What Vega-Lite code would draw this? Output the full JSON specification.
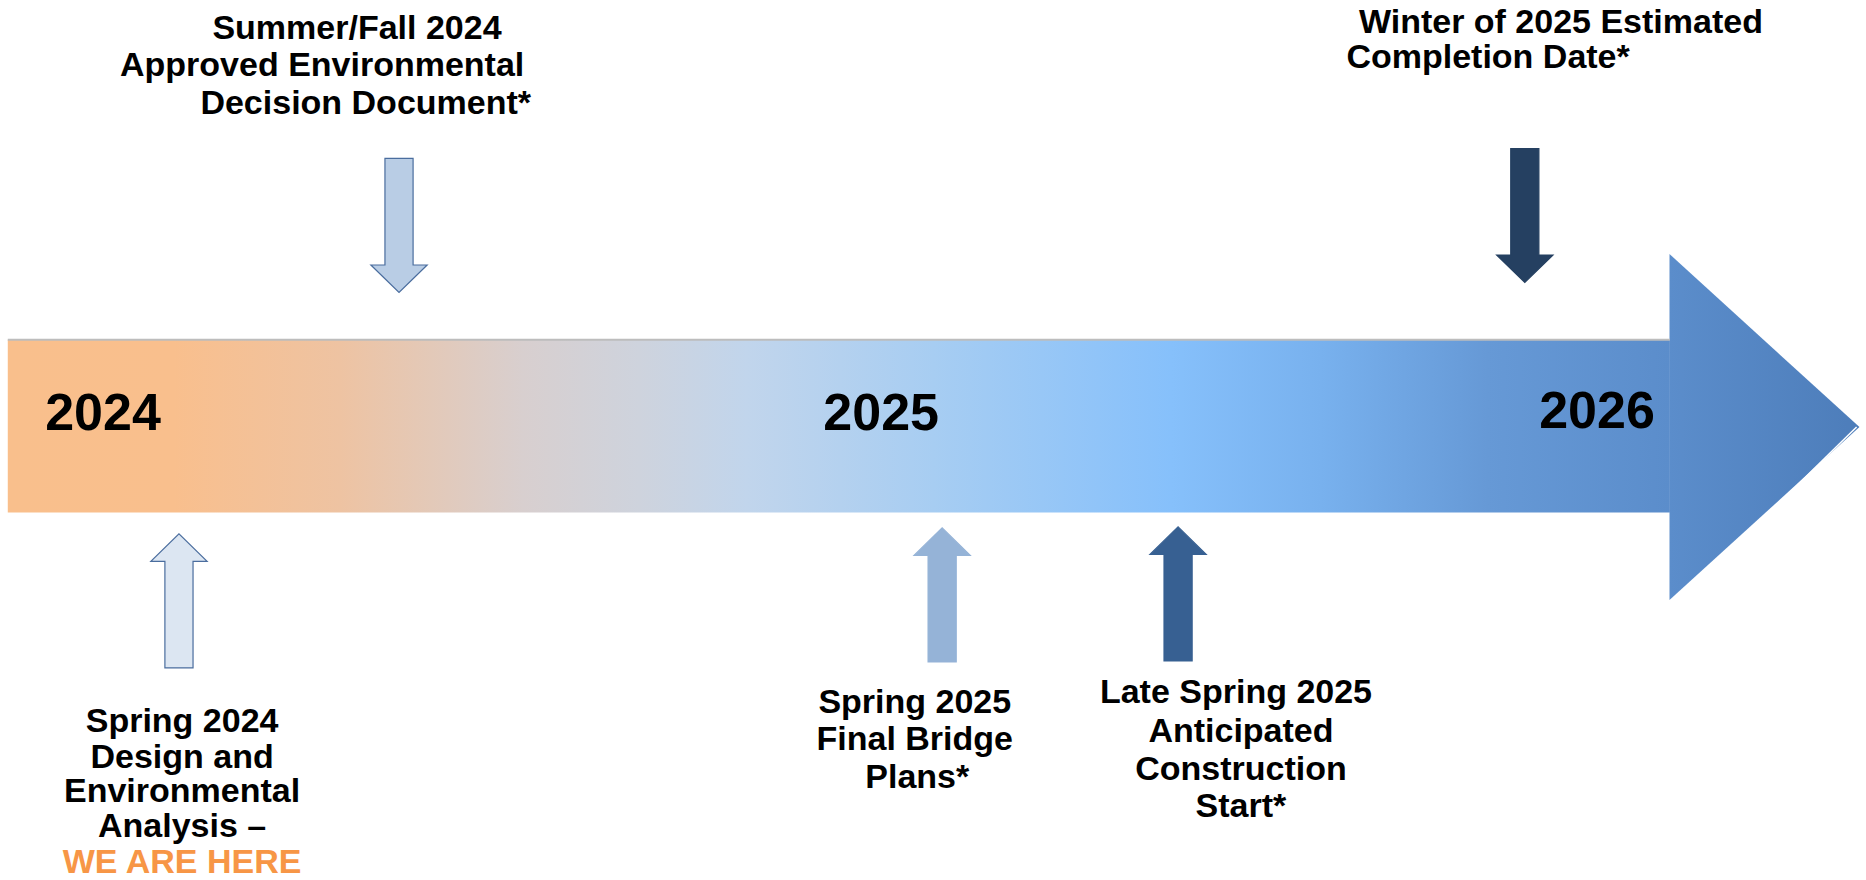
{
  "$schema": "https://vega.github.io/schema/vega-lite/v6.json",
  "width": 1866,
  "height": 880,
  "autosize": {"type": "fit", "contains": "padding"},
  "padding": 0,
  "background": "white",
  "config": {"view": {"stroke": null}, "font": "Liberation Sans"},
  "datasets": {
    "shaft": [
      {"month": -1.53, "month2": 25.17, "top": 342, "bottom": 516}
    ],
    "head": [
      {"month": 26.69, "level": 430}
    ],
    "edge": [
      {"month": -1.53, "month2": 25.17, "level": 342}
    ],
    "glint": [
      {"month": 28.17, "month2": 26.41, "level": 430, "level2": 538}
    ],
    "milestones": [
      {"id": "Summer/Fall 2024", "month": 4.755, "level": 227, "direction": "down"},
      {"id": "Winter 2025", "month": 22.84, "level": 217, "direction": "down"},
      {"id": "Spring 2024", "month": 1.22, "level": 605, "direction": "up"},
      {"id": "Spring 2025", "month": 13.48, "level": 599, "direction": "up"},
      {"id": "Late Spring 2025", "month": 17.27, "level": 598, "direction": "up"}
    ],
    "years": [
      {"label": "2024", "month": 0, "level": 433},
      {"label": "2025", "month": 12.5, "level": 433},
      {"label": "2026", "month": 24, "level": 431}
    ],
    "lines": [
      {"text": "Summer/Fall 2024", "month": 4.08, "level": 39, "tone": "normal"},
      {"text": "Approved Environmental", "month": 3.52, "level": 77, "tone": "normal"},
      {"text": "Decision Document*", "month": 4.22, "level": 115, "tone": "normal"},
      {"text": "Winter of 2025 Estimated", "month": 23.42, "level": 33, "tone": "normal"},
      {"text": "Completion Date*", "month": 22.25, "level": 68, "tone": "normal"},
      {"text": "Spring 2024", "month": 1.27, "level": 737, "tone": "normal"},
      {"text": "Design and", "month": 1.27, "level": 773, "tone": "normal"},
      {"text": "Environmental", "month": 1.27, "level": 808, "tone": "normal"},
      {"text": "Analysis –", "month": 1.27, "level": 843, "tone": "normal"},
      {"text": "WE ARE HERE", "month": 1.27, "level": 879, "tone": "highlight"},
      {"text": "Spring 2025", "month": 13.04, "level": 718, "tone": "normal"},
      {"text": "Final Bridge", "month": 13.04, "level": 755, "tone": "normal"},
      {"text": "Plans*", "month": 13.08, "level": 793, "tone": "normal"},
      {"text": "Late Spring 2025", "month": 18.2, "level": 708, "tone": "normal"},
      {"text": "Anticipated", "month": 18.28, "level": 747, "tone": "normal"},
      {"text": "Construction", "month": 18.28, "level": 785, "tone": "normal"},
      {"text": "Start*", "month": 18.28, "level": 823, "tone": "normal"}
    ]
  },
  "layer": [
    {
      "data": {"name": "shaft"},
      "mark": {
        "type": "rect",
        "fill": {
          "gradient": "linear",
          "x1": 0, "x2": 1, "y1": 0, "y2": 0,
          "stops": [
            {"offset": 0.0, "color": "#F9BF8C"},
            {"offset": 0.10, "color": "#F9BF8D"},
            {"offset": 0.20, "color": "#EEC3A2"},
            {"offset": 0.31, "color": "#D8CFCF"},
            {"offset": 0.38, "color": "#CED3DD"},
            {"offset": 0.445, "color": "#C1D5EC"},
            {"offset": 0.557, "color": "#A7CDF2"},
            {"offset": 0.70, "color": "#86C0FB"},
            {"offset": 0.79, "color": "#78B1EE"},
            {"offset": 0.89, "color": "#6699D6"},
            {"offset": 1.0, "color": "#5B8DCB"}
          ]
        }
      },
      "encoding": {
        "x": {"field": "month", "type": "quantitative", "scale": {"domain": [-1.655, 28.321], "nice": false, "zero": false}, "axis": null},
        "x2": {"field": "month2"},
        "y": {"field": "top", "type": "quantitative", "scale": {"domain": [0, 880], "reverse": true, "nice": false, "zero": false}, "axis": null},
        "y2": {"field": "bottom"}
      }
    },
    {
      "data": {"name": "head"},
      "mark": {
        "type": "point",
        "filled": true,
        "opacity": 1,
        "size": 119716,
        "shape": "M-0.549,-1L0.549,0L-0.549,1Z",
        "fill": {
          "gradient": "linear",
          "x1": 0, "x2": 1, "y1": 0, "y2": 0,
          "stops": [
            {"offset": 0.0, "color": "#5B8DCB"},
            {"offset": 1.0, "color": "#4D7DBA"}
          ]
        }
      },
      "encoding": {
        "x": {"field": "month", "type": "quantitative"},
        "y": {"field": "level", "type": "quantitative"}
      }
    },
    {
      "data": {"name": "edge"},
      "mark": {"type": "rule", "stroke": "#BDBDBD", "strokeWidth": 2},
      "encoding": {
        "x": {"field": "month", "type": "quantitative"},
        "x2": {"field": "month2"},
        "y": {"field": "level", "type": "quantitative"}
      }
    },
    {
      "data": {"name": "glint"},
      "mark": {"type": "rule", "stroke": "white", "strokeWidth": 1.5},
      "encoding": {
        "x": {"field": "month", "type": "quantitative"},
        "x2": {"field": "month2"},
        "y": {"field": "level", "type": "quantitative"},
        "y2": {"field": "level2"}
      }
    },
    {
      "data": {"name": "milestones"},
      "mark": {"type": "point", "filled": true, "opacity": 1, "strokeWidth": 1.2, "size": 17956},
      "encoding": {
        "x": {"field": "month", "type": "quantitative"},
        "y": {"field": "level", "type": "quantitative"},
        "shape": {
          "field": "direction", "type": "nominal", "legend": null,
          "scale": {
            "domain": ["down", "up"],
            "range": [
              "M-0.21,-1L0.21,-1L0.21,0.59L0.42,0.59L0,1L-0.42,0.59L-0.21,0.59Z",
              "M-0.21,1L0.21,1L0.21,-0.59L0.42,-0.59L0,-1L-0.42,-0.59L-0.21,-0.59Z"
            ]
          }
        },
        "fill": {
          "field": "id", "type": "nominal", "legend": null,
          "scale": {
            "domain": ["Summer/Fall 2024", "Winter 2025", "Spring 2024", "Spring 2025", "Late Spring 2025"],
            "range": ["#B9CDE5", "#254061", "#DCE6F2", "#95B3D7", "#376092"]
          }
        },
        "stroke": {
          "field": "id", "type": "nominal", "legend": null,
          "scale": {
            "domain": ["Summer/Fall 2024", "Winter 2025", "Spring 2024", "Spring 2025", "Late Spring 2025"],
            "range": ["#4A6D9E", "#254061", "#4A6D9E", "#95B3D7", "#376092"]
          }
        }
      }
    },
    {
      "data": {"name": "years"},
      "mark": {"type": "text", "font": "Liberation Sans", "fontWeight": "bold", "fontSize": 52, "align": "center", "baseline": "alphabetic", "color": "black"},
      "encoding": {
        "x": {"field": "month", "type": "quantitative"},
        "y": {"field": "level", "type": "quantitative"},
        "text": {"field": "label"}
      }
    },
    {
      "data": {"name": "lines"},
      "mark": {"type": "text", "font": "Liberation Sans", "fontWeight": "bold", "fontSize": 34, "align": "center", "baseline": "alphabetic"},
      "encoding": {
        "x": {"field": "month", "type": "quantitative"},
        "y": {"field": "level", "type": "quantitative"},
        "text": {"field": "text"},
        "color": {
          "field": "tone", "type": "nominal", "legend": null,
          "scale": {"domain": ["normal", "highlight"], "range": ["#000000", "#F79646"]}
        }
      }
    }
  ]
}
